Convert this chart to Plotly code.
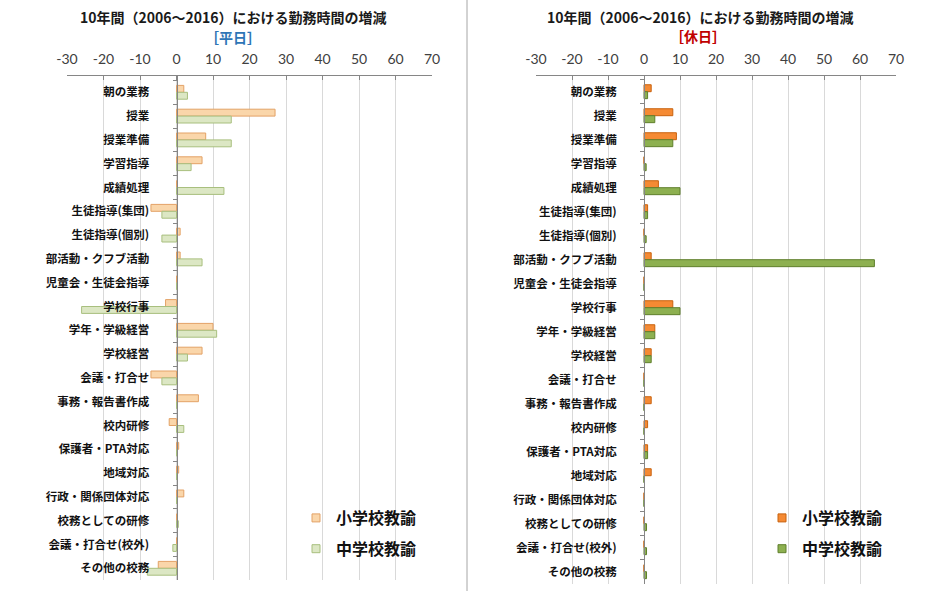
import plotly.graph_objects as go

categories = ["朝の業務", "授業", "授業準備", "学習指導", "成績処理", "生徒指導(集団)", "生徒指導(個別)",
              "部活動・クフブ活動", "児童会・生徒会指導", "学校行事", "学年・学級経営", "学校経営",
              "会議・打合せ", "事務・報告書作成", "校内研修", "保護者・PTA対応", "地域対応",
              "行政・関係団体対応", "校務としての研修", "会議・打合せ(校外)", "その他の校務"]

series_names = ["小学校教諭", "中学校教諭"]

weekday_elem = [2, 27, 8, 7, 0, -7, 1, 1, 0, -3, 10, 7, -7, 6, -2, 0.6, 0.6, 2, 0, 0, -5]
weekday_jhs = [3, 15, 15, 4, 13, -4, -4, 7, 0, -26, 11, 3, -4, 0, 2, 0, 0, 0, 0.5, -1, -8]

holiday_elem = [2, 8, 9, 0, 4, 1, 0, 2, 0, 8, 3, 2, 0, 2, 1, 1, 2, 0, 0, 0, 0]
holiday_jhs = [1, 3, 8, 0.6, 10, 1, 0.6, 64, 0, 10, 3, 2, 0, 0, 0, 1, 0, 0, 0.7, 0.7, 0.7]

x_ticks = [-30, -20, -10, 0, 10, 20, 30, 40, 50, 60, 70]
x_ticktext = [str(v) for v in x_ticks]

title_text = "10年間（2006～2016）における勤務時間の増減"
sub_left = "［平日］"
sub_right = "［休日］"

W, H = 934, 591
def px(v):
    return v / W
def py(v):
    return 1 - v / H

fig = go.Figure()

styles_left = [dict(color="#FAD6AA", line=dict(color="#E3A266", width=1)),
               dict(color="#DCE7C4", line=dict(color="#A8BF7E", width=1))]
styles_right = [dict(color="#F58A33", line=dict(color="#C8620E", width=1)),
                dict(color="#8DB050", line=dict(color="#5F7F2C", width=1))]

for name, vals, st in zip(series_names, [weekday_elem, weekday_jhs], styles_left):
    fig.add_trace(go.Bar(y=categories, x=vals, orientation="h", name=name, marker=st,
                         xaxis="x", yaxis="y", showlegend=False))
for name, vals, st in zip(series_names, [holiday_elem, holiday_jhs], styles_right):
    fig.add_trace(go.Bar(y=categories, x=vals, orientation="h", name=name, marker=st,
                         xaxis="x2", yaxis="y2", showlegend=False))

# legend entries (small square swatches)
for name, st in zip(series_names, styles_left):
    fig.add_trace(go.Scatter(x=[None], y=[None], mode="markers", name=name, xaxis="x", yaxis="y",
                             marker=dict(symbol="square", size=8, color=st["color"],
                                         line=dict(color=st["line"]["color"], width=1)),
                             legend="legend", legendgroup=name + "L"))
for name, st in zip(series_names, styles_right):
    fig.add_trace(go.Scatter(x=[None], y=[None], mode="markers", name=name, xaxis="x2", yaxis="y2",
                             marker=dict(symbol="square", size=8, color=st["color"],
                                         line=dict(color=st["line"]["color"], width=1)),
                             legend="legend2", legendgroup=name + "R"))

xcommon = dict(range=[-30, 70], tickvals=x_ticks, ticktext=x_ticktext, side="top", showgrid=True,
               gridcolor="#D9D9D9", gridwidth=1, zeroline=False, showline=True, linecolor="#868686",
               ticks="inside", ticklen=4, tickcolor="#868686", ticklabelstandoff=5,
               tickfont=dict(family="Lato, Open Sans", size=14, color="#404040"),
               fixedrange=True, automargin=False)
ycommon = dict(showgrid=False, zeroline=False, showline=True, linecolor="#868686",
               ticks="outside", ticklen=4, tickcolor="#868686", tickson="boundaries",
               tickfont=dict(family="Noto Sans CJK JP", size=11.5, color="#111111", weight="bold"),
               ticklabelstandoff=25, fixedrange=True, automargin=False)

band_l = (568.3 - 92.3) / 20
band_r = (571.7 - 91.7) / 20
top_l, bot_l = 76.0, 568.3 + band_l / 2
top_r, bot_r = 76.0, 571.7 + band_r / 2
rng_l = [20.5, -0.5 - (92.3 - band_l / 2 - top_l) / band_l]
rng_r = [20.5, -0.5 - (91.7 - band_r / 2 - top_r) / band_r]

fig.update_layout(
    width=W, height=H, margin=dict(l=0, r=0, t=0, b=0, autoexpand=False),
    paper_bgcolor="white", plot_bgcolor="white",
    barmode="group", bargap=0.42, bargroupgap=0.0,
    xaxis=dict(domain=[px(67), px(432)], anchor="y", **xcommon),
    xaxis2=dict(domain=[px(536), px(896)], anchor="y2", **xcommon),
    yaxis=dict(domain=[py(bot_l), py(top_l)], range=rng_l, anchor="free", position=px(176.5), **ycommon),
    yaxis2=dict(domain=[py(bot_r), py(top_r)], range=rng_r, anchor="free", position=px(644), **ycommon),
    legend=dict(x=px(296), y=py(501), xanchor="left", yanchor="top", bgcolor="rgba(255,255,255,0)",
                font=dict(family="Noto Sans CJK JP", size=16, color="#111111", weight="bold"),
                traceorder="grouped", tracegroupgap=7),
    legend2=dict(x=px(762), y=py(501), xanchor="left", yanchor="top", bgcolor="rgba(255,255,255,0)",
                 font=dict(family="Noto Sans CJK JP", size=16, color="#111111", weight="bold"),
                 traceorder="grouped", tracegroupgap=7),
    showlegend=True,
)

ann_font = dict(family="Noto Sans CJK JP", size=14, color="#1a1a1a", weight="bold")
fig.add_annotation(x=px(233), y=py(17), xref="paper", yref="paper", text=title_text, showarrow=False,
                   font=ann_font, xanchor="center", yanchor="middle")
fig.add_annotation(x=px(233), y=py(37), xref="paper", yref="paper", text=sub_left, showarrow=False,
                   font=dict(family="Noto Sans CJK JP", size=14, color="#2E75B6", weight="bold"),
                   xanchor="center", yanchor="middle")
fig.add_annotation(x=px(700), y=py(17), xref="paper", yref="paper", text=title_text, showarrow=False,
                   font=ann_font, xanchor="center", yanchor="middle")
fig.add_annotation(x=px(698), y=py(36), xref="paper", yref="paper", text=sub_right, showarrow=False,
                   font=dict(family="Noto Sans CJK JP", size=14, color="#C00000", weight="bold"),
                   xanchor="center", yanchor="middle")

fig.add_shape(type="line", xref="paper", yref="paper", x0=px(467), x1=px(467), y0=0, y1=1,
              line=dict(color="#A6A6A6", width=1))

fig.write_html("out.html")
